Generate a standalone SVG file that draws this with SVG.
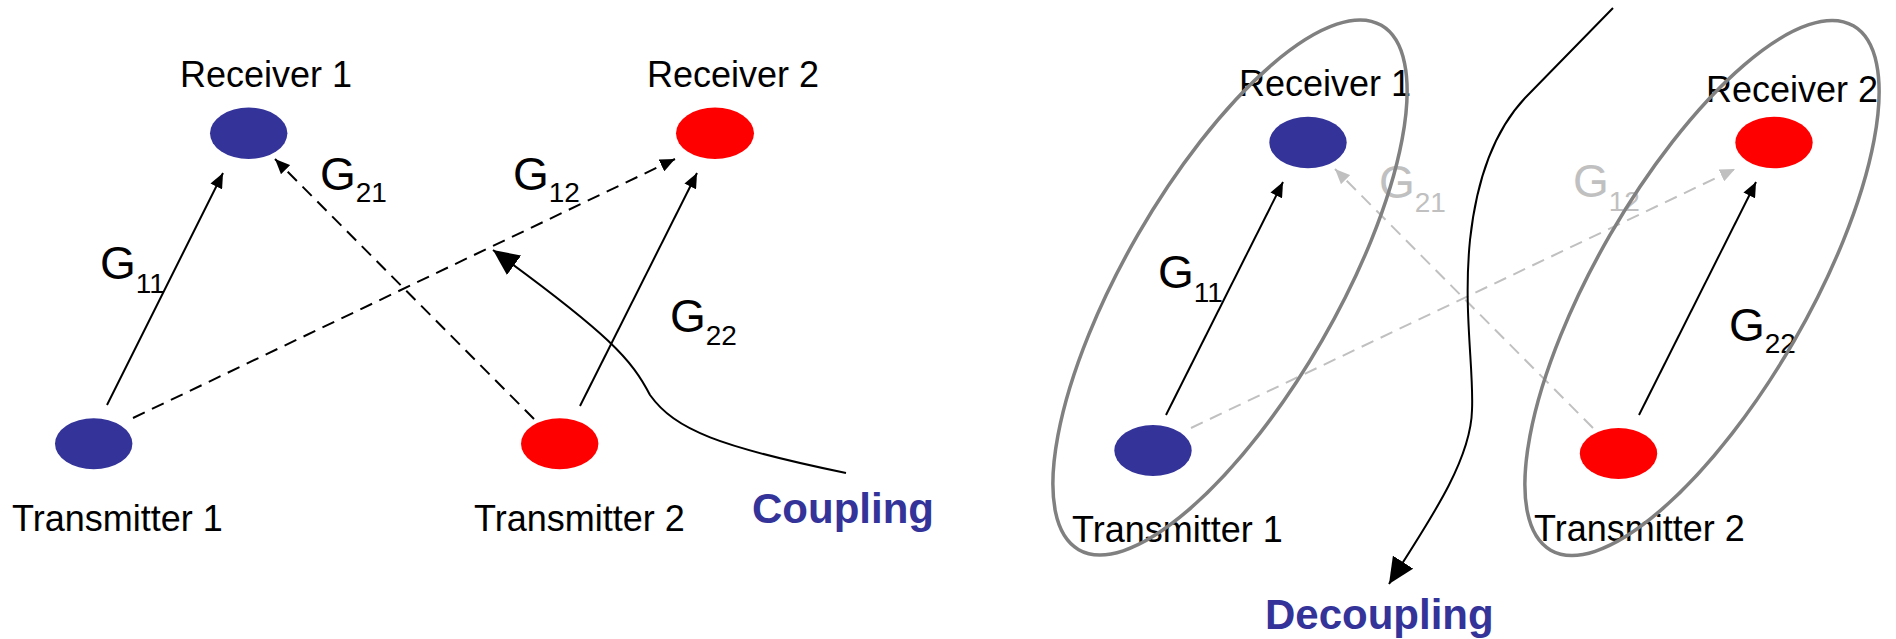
<svg xmlns="http://www.w3.org/2000/svg" width="1896" height="639" viewBox="0 0 1896 639">
<style>
text{font-family:"Liberation Sans",Arial,sans-serif;fill:#000}
.lbl{font-size:36px}
.g{font-size:46px}
.sub{font-size:28px}
.grey{fill:#c0c0c0}
.title{font-size:42px;font-weight:bold;fill:#333399}
.blue{fill:#333399}
.red{fill:#ff0000}
.solid{stroke:#000;stroke-width:2;fill:none;marker-end:url(#ah)}
.dash{stroke:#000;stroke-width:2;fill:none;stroke-dasharray:13 8;marker-end:url(#ah)}
.gdash{stroke:#c0c0c0;stroke-width:2;fill:none;stroke-dasharray:13 8;marker-end:url(#ahg)}
.curve{stroke:#000;stroke-width:2;fill:none;marker-end:url(#big)}
.cluster{stroke:#808080;stroke-width:3.5;fill:none}
</style>
<defs>
<marker id="ah" markerUnits="userSpaceOnUse" markerWidth="15" markerHeight="13" refX="15" refY="6.5" orient="auto" viewBox="0 0 15 13"><path d="M0,0 L15,6.5 L0,13 z" fill="#000"/></marker>
<marker id="ahg" markerUnits="userSpaceOnUse" markerWidth="15" markerHeight="13" refX="15" refY="6.5" orient="auto" viewBox="0 0 15 13"><path d="M0,0 L15,6.5 L0,13 z" fill="#c0c0c0"/></marker>
<marker id="big" markerUnits="userSpaceOnUse" markerWidth="26" markerHeight="24" refX="26" refY="12" orient="auto" viewBox="0 0 26 24"><path d="M0,0 L26,12 L0,24 z" fill="#000"/></marker>
</defs>

<!-- Left panel: coupling -->
<g id="connectors-left">
<line class="solid" x1="107" y1="405" x2="223" y2="173"/>
<line class="solid" x1="580" y1="406" x2="697" y2="173"/>
<line class="dash" x1="133" y1="418" x2="675" y2="159"/>
<line class="dash" x1="534" y1="419" x2="275" y2="159"/>
<path class="curve" d="M846,473 C720,447 675,430 650,395 C632,360 610,335 493,250"/>
</g>
<g id="labels-left">
<text class="g" x="100" y="279">G<tspan class="sub" dy="14">11</tspan></text>
<text class="g" x="320" y="190">G<tspan class="sub" dy="12">21</tspan></text>
<text class="g" x="513" y="190">G<tspan class="sub" dy="12">12</tspan></text>
<text class="g" x="670" y="332">G<tspan class="sub" dy="13">22</tspan></text>
</g>
<g id="L-receiver1"><ellipse class="blue" cx="248.7" cy="133.3" rx="38.7" ry="25.7"/><text class="lbl" x="180" y="87">Receiver 1</text></g>
<g id="L-receiver2"><ellipse class="red" cx="715" cy="133.3" rx="39" ry="25.7"/><text class="lbl" x="647" y="87">Receiver 2</text></g>
<g id="L-transmitter1"><ellipse class="blue" cx="93.7" cy="443.8" rx="38.7" ry="25.5"/><text class="lbl" x="12" y="531">Transmitter 1</text></g>
<g id="L-transmitter2"><ellipse class="red" cx="559.7" cy="443.8" rx="38.7" ry="25.5"/><text class="lbl" x="474" y="531">Transmitter 2</text></g>
<g id="L-coupling"><text class="title" x="752" y="523">Coupling</text></g>

<!-- Right panel: decoupling -->
<g id="connectors-right">
<line class="solid" x1="1166" y1="415" x2="1283" y2="182"/>
<line class="solid" x1="1639" y1="415" x2="1756" y2="182"/>
<line class="gdash" x1="1191" y1="428" x2="1735" y2="169"/>
<line class="gdash" x1="1593" y1="428" x2="1335" y2="169"/>
<path class="curve" d="M1613,8 L1525,98 C1495,130 1477,175 1470,240 C1463,310 1474,370 1472,410 C1471,460 1430,520 1389,584"/>
</g>
<g id="labels-right">
<text class="g" x="1158" y="288">G<tspan class="sub" dy="14">11</tspan></text>
<text class="g grey" x="1379" y="198">G<tspan class="sub" dy="14">21</tspan></text>
<text class="g grey" x="1573" y="197">G<tspan class="sub" dy="14">12</tspan></text>
<text class="g" x="1729" y="341">G<tspan class="sub" dy="12">22</tspan></text>
</g>
<g id="R-receiver1"><ellipse class="blue" cx="1308" cy="142.5" rx="38.7" ry="25.8"/><text class="lbl" x="1239" y="96">Receiver 1</text></g>
<g id="R-receiver2"><ellipse class="red" cx="1774" cy="142.5" rx="38.7" ry="25.8"/><text class="lbl" x="1706" y="102">Receiver 2</text></g>
<g id="R-transmitter1"><ellipse class="blue" cx="1153" cy="450.5" rx="38.7" ry="25.5"/><text class="lbl" x="1072" y="542">Transmitter 1</text></g>
<g id="R-transmitter2"><ellipse class="red" cx="1618.5" cy="453.5" rx="38.7" ry="25.5"/><text class="lbl" x="1534" y="541">Transmitter 2</text></g>
<g id="R-decoupling"><text class="title" x="1265" y="629">Decoupling</text></g>
<g id="cluster1"><ellipse class="cluster" cx="1230" cy="287.5" rx="302.7" ry="106.2" transform="rotate(-60 1230 287.5)"/></g>
<g id="cluster2"><ellipse class="cluster" cx="1702" cy="288" rx="302.7" ry="106.2" transform="rotate(-60 1702 288)"/></g>
</svg>
